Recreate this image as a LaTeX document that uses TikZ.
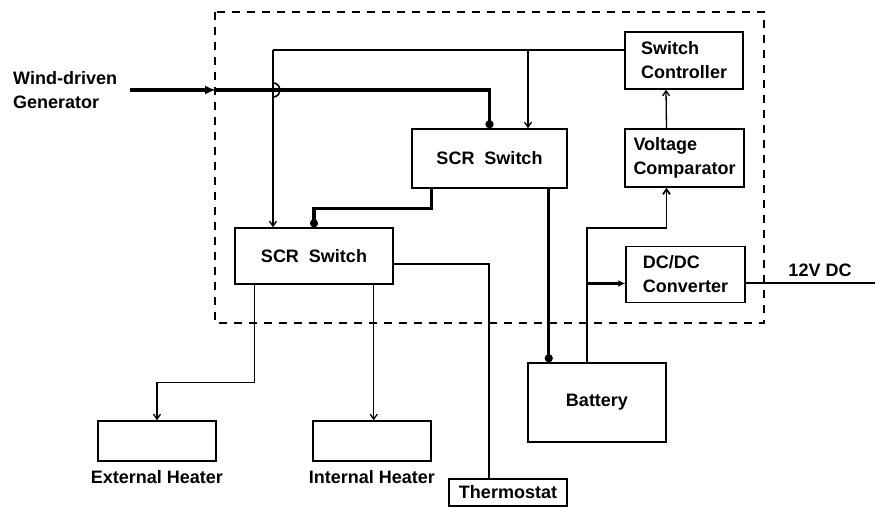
\documentclass[tikz,border=0pt]{standalone}
\usepackage{fontspec}
\setmainfont{Liberation Sans}
\usetikzlibrary{arrows.meta,positioning,calc}
\begin{document}
\begin{tikzpicture}[
        x=1pt, y=-1pt,
        every node/.style={font=\fontsize{18}{24}\selectfont\bfseries, align=left, inner sep=0pt},
        block/.style={draw, line width=1.5pt, minimum width=118pt, minimum height=57pt},
        wire/.style={line width=1.3pt},
        signal/.style={wire, -{Straight Barb[length=5pt,width=7pt]}},
        power/.style={line width=3.2pt},
        blob/.style={power, -{Circle[length=8pt,width=8pt]}},
    ]
    \useasboundingbox (0,0) rectangle (875,507);
    \draw[line width=1.5pt, dash pattern=on 8pt off 7pt] (215,12) rectangle (764,323);

    \node[anchor=west](gen) at (13,90){Wind-driven\\Generator};
    \node[block, minimum width=155pt, minimum height=59pt](scrA) at (489.5,158.5){SCR~~Switch};
    \node[block, minimum width=158pt, minimum height=56pt](scrB) at (314,256){SCR~~Switch};
    \node[block](ctrl) at (684,60.5){Switch\\Controller};
    \node[block, minimum width=119pt, minimum height=58pt](comp) at (684.5,158){Voltage\\Comparator};
    \node[block, minimum width=119pt, minimum height=56pt](conv) at (685.5,274.5){DC/DC\\Converter};
    \node[block, minimum width=138pt, minimum height=79pt](batt) at (597,402.5){Battery};
    \node[block, minimum height=40pt](ext) at (157,441){};
    \node[block, minimum height=40pt](int) at (372,441){};
    \node[below=8pt of ext](extlabel){External Heater};
    \node[below=8pt of int](intlabel){Internal Heater};
    \node[block, minimum height=27pt](thermo) at (508,492.5){Thermostat};
    \node(dclabel) at (820,270){12V DC};

    \coordinate (genin) at (216,90);
    \coordinate (bus) at (273,50);
    \coordinate (tap) at (528,50);
    \coordinate (scrAout) at ([xshift=-19pt]scrA.south east);
    \coordinate (battout) at ([xshift=-10pt]batt.north);
    \coordinate (convin) at ($(conv.west)+(0,9)$);
    \coordinate (dcout) at (875,283);
    \coordinate (extout) at ([xshift=20pt]scrB.south west);
    \coordinate (intout) at ([xshift=-20pt]scrB.south east);

    % power path
    \draw[power, -{Latex[length=11pt,width=9pt]}] ([xshift=13pt]gen.east) -- (genin);
    \draw[blob] (genin) -| (scrA.north);
    \draw[blob] ([xshift=20pt]scrA.south west) -- ++(0,20) -| (scrB.north);
    \draw[blob] (scrAout) -- (scrAout |- batt.north);
    \draw[line width=2.2pt, -{Latex[length=7pt,width=7pt]}] (battout |- convin) -- (convin);
    \draw[line width=2.4pt] (conv.east |- dcout) -- (dcout);

    % control lines
    \draw[wire] (ctrl.west |- bus) -- (bus);
    \draw[signal] (bus) -- (bus |- scrB.north);
    \draw[wire, line width=1.6pt] (273,83) .. controls (282,83) and (282,97) .. (273,97);
    \draw[signal] (tap) -- (tap |- scrA.north);
    \draw[signal, line width=1.8pt] (battout) |- ($(comp.south)+(-18,40)$) -- ($(comp.south)+(-18,0)$);
    \draw[signal] ($(comp.north)+(-18,0)$) -- ($(ctrl.south)+(-18,0)$);
    \draw[wire] ($(scrB.east)+(0,8)$) -| ($(thermo.north)+(-19,0)$);
    \draw[signal] (extout) -- ++(0,98) -| (ext.north);
    \draw[signal] (intout) -- (intout |- int.north);
\end{tikzpicture}
\end{document}
